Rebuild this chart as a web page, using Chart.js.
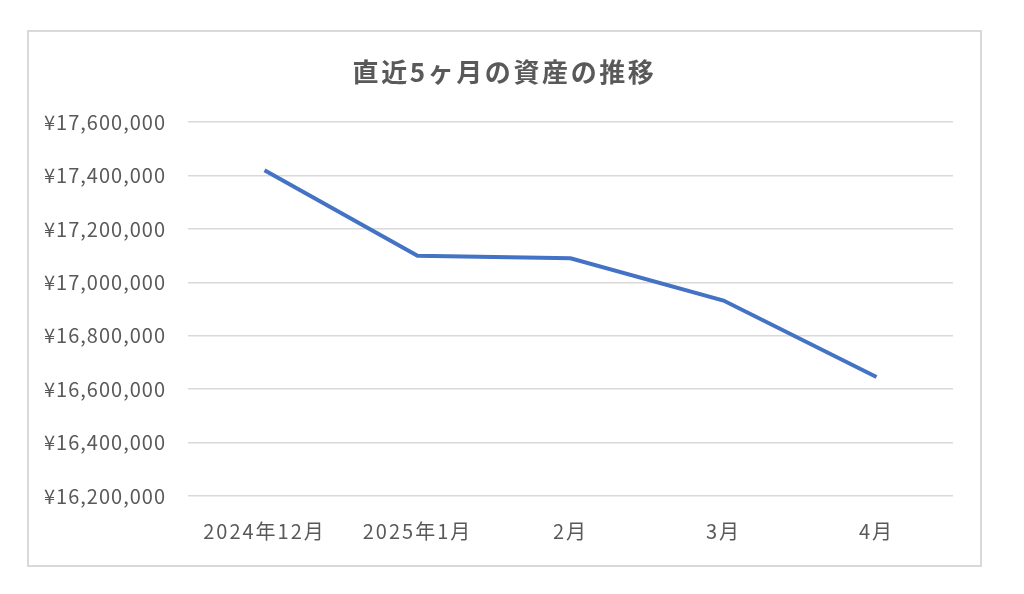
<!DOCTYPE html>
<html><head><meta charset="utf-8">
<script src="https://cdn.jsdelivr.net/npm/chart.js@4"></script>
<style>
html,body{margin:0;padding:0;background:#fff;width:1024px;height:594px;overflow:hidden;}
#box{position:absolute;left:27px;top:30px;width:955px;height:537px;border:2px solid #d9d9d9;box-sizing:border-box;}
canvas{display:block;}
</style></head>
<body>
<div id="box"><canvas id="c" width="951" height="533"></canvas></div>
<script>
const titleText = "直近5ヶ月の資産の推移";
const categories = ["2024年12月", "2025年1月", "2月", "3月", "4月"];
const assetValues = [17420000, 17100000, 17090000, 16932000, 16646000];
const yMin = 16200000, yMax = 17600000, yStep = 200000;

const ff = "'Noto Sans CJK JP', 'Noto Sans', sans-serif";

function withSpacing(obj, key, spacing, ctx) {
  if (!obj || obj['_ls_' + key]) return;
  const orig = obj[key];
  obj[key] = function (...args) {
    ctx.save();
    ctx.letterSpacing = spacing;
    const r = orig.apply(this, args);
    ctx.restore();
    return r;
  };
  obj['_ls_' + key] = true;
}

const spacingPlugin = {
  id: 'spacing',
  afterLayout(chart) {
    // centre the title over the whole frame, not just the inner layout area
    if (chart.titleBlock) { chart.titleBlock.left = 27; }
  },
  beforeDraw(chart) {
    const ctx = chart.ctx;
    withSpacing(chart.titleBlock, 'draw', '2.6px', ctx);
    withSpacing(chart.scales.x, 'drawLabels', '2px', ctx);
    withSpacing(chart.scales.y, 'drawLabels', '1px', ctx);
  }
};

new Chart(document.getElementById('c'), {
  type: 'line',
  data: {
    labels: categories,
    datasets: [{
      data: assetValues,
      borderColor: '#4472C4',
      borderWidth: 4,
      pointRadius: 0,
      tension: 0,
      fill: false
    }]
  },
  options: {
    responsive: false,
    animation: false,
    devicePixelRatio: 1,
    layout: { padding: { left: 0, right: 27, top: 0, bottom: 0 } },
    plugins: {
      legend: { display: false },
      tooltip: { enabled: false },
      title: {
        display: true, text: titleText, color: '#595959',
        font: { family: ff, size: 26, weight: 'bold', lineHeight: 1.2 },
        padding: { top: 25, bottom: 34 }
      }
    },
    scales: {
      x: {
        offset: true,
        grid: { display: false, drawTicks: false },
        border: { display: false },
        ticks: { color: '#595959', font: { family: ff, size: 20 }, padding: 23, maxRotation: 0, autoSkip: false },
        afterFit: s => { s.height = 69; }
      },
      y: {
        min: yMin, max: yMax,
        grid: { color: '#d9d9d9', lineWidth: 1.5, drawTicks: false },
        border: { display: false },
        ticks: {
          stepSize: yStep, color: '#595959', padding: 22,
          font: { family: ff, size: 20 },
          callback: v => '¥' + v.toLocaleString('en-US')
        },
        afterFit: s => { s.width = 159; }
      }
    }
  },
  plugins: [spacingPlugin]
});
</script>
</body></html>
